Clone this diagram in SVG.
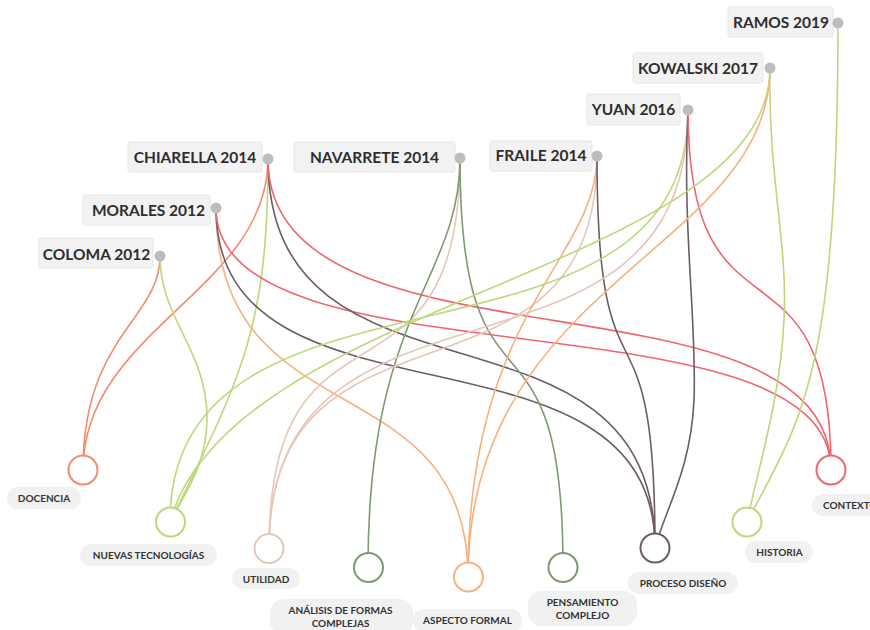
<svg xmlns="http://www.w3.org/2000/svg" width="870" height="630" viewBox="0 0 870 630">
<style>
.e{fill:none;stroke-width:1.6}
.sal{stroke:#F28C6E}.grn{stroke:#BDD77C}.bei{stroke:#E5C7B8}.oli{stroke:#7D9971}.org{stroke:#F7B07F}.mau{stroke:#6D5B65}.red{stroke:#EE6670}
.box{fill:#F2F2F2;stroke:#E6E6E6;stroke-width:1}
.dot{fill:#BDBDBD}
.st{font-family:Lato,"Liberation Sans",sans-serif;font-weight:700;font-size:15.5px;fill:#2E2E2E;text-anchor:middle}
.pill{fill:#F1F1F1}
.lt{font-family:Lato,"Liberation Sans",sans-serif;font-weight:700;font-size:10px;fill:#333;text-anchor:middle}
.c{fill:#fff;stroke-width:2}
</style>
<rect width="870" height="630" fill="#fff"/>
<g id="connectors">
<path class="e sal" d="M160,256 C160,320 83,335 83,470"/>
<path class="e sal" d="M268,159 C268,290 83,330 83,470"/>
<path class="e grn" d="M160,256 C160,320 208,350 207,420 C206,470 180,500 170,522"/>
<path class="e grn" d="M268,159 C268,330 240,380 170,522"/>
<path class="e org" d="M216,208 C216,440 468,360 468,577"/>
<path class="e mau" d="M216,208 C216,446 655,304 655,548"/>
<path class="e red" d="M216,208 C216,391 831,287 831,470"/>
<path class="e mau" d="M268,159 C268,431 655,276 655,548"/>
<path class="e red" d="M268,159 C268,385 831,258 831,470"/>
<path class="e bei" d="M460,158 C460,431 269,275 269,548"/>
<path class="e oli" d="M460,158 C460,280 368,310 368,567"/>
<path class="e oli" d="M460,158 C460,444 563,281 563,567"/>
<path class="e bei" d="M597,156 C597,430 269,274 269,548"/>
<path class="e org" d="M597,156 C597,260 468,310 468,577"/>
<path class="e mau" d="M597,156 C597,430 655,274 655,548"/>
<path class="e grn" d="M688,110 C688,398 170,234 170,522"/>
<path class="e bei" d="M688,110 C688,417 269,241 269,548"/>
<path class="e mau" d="M688,110 C682,230 697,320 694,400 C691,470 665,510 655,548"/>
<path class="e red" d="M688,110 C688,362 831,218 831,470"/>
<path class="e grn" d="M770,68 C770,270 230,300 170,522"/>
<path class="e org" d="M770,68 C770,250 468,280 468,577"/>
<path class="e grn" d="M770,68 C768,180 788,240 784,320 C780,400 760,460 747,522"/>
<path class="e grn" d="M838,23 C838,380 800,420 747,522"/>
</g>
<g id="ramos"><rect class="box" x="728" y="7" width="105" height="30" rx="2"/><text class="st" x="781" y="28">RAMOS 2019</text><circle class="dot" cx="838" cy="23" r="5.5"/></g>
<g id="kowalski"><rect class="box" x="633" y="53" width="130" height="30" rx="2"/><text class="st" x="698" y="73.5">KOWALSKI 2017</text><circle class="dot" cx="770" cy="68" r="5.5"/></g>
<g id="yuan"><rect class="box" x="587" y="94" width="93" height="31" rx="2"/><text class="st" x="633.5" y="115">YUAN 2016</text><circle class="dot" cx="688" cy="110" r="5.5"/></g>
<g id="fraile"><rect class="box" x="490" y="141" width="102" height="30" rx="2"/><text class="st" x="541" y="161">FRAILE 2014</text><circle class="dot" cx="597" cy="156" r="5.5"/></g>
<g id="navarrete"><rect class="box" x="294" y="142" width="161" height="30" rx="2"/><text class="st" x="374.5" y="163">NAVARRETE 2014</text><circle class="dot" cx="460" cy="158" r="5.5"/></g>
<g id="chiarella"><rect class="box" x="128" y="142" width="134" height="30" rx="2"/><text class="st" x="195" y="163">CHIARELLA 2014</text><circle class="dot" cx="268" cy="159" r="5.5"/></g>
<g id="morales"><rect class="box" x="83" y="195" width="127" height="30" rx="2"/><text class="st" x="148.5" y="216">MORALES 2012</text><circle class="dot" cx="216" cy="208" r="5.5"/></g>
<g id="coloma"><rect class="box" x="39" y="238" width="114" height="30" rx="2"/><text class="st" x="96.5" y="260">COLOMA 2012</text><circle class="dot" cx="160" cy="256" r="5.5"/></g>
<g id="docencia"><circle class="c sal" cx="83" cy="470" r="14.5"/><rect class="pill" x="7" y="487" width="74" height="22" rx="11"/><text class="lt" x="44" y="502">DOCENCIA</text></g>
<g id="nuevas-tecnologias"><circle class="c grn" cx="170.5" cy="522" r="14.5"/><rect class="pill" x="80" y="544" width="137" height="22" rx="11"/><text class="lt" x="148.5" y="558.5">NUEVAS TECNOLOGÍAS</text></g>
<g id="utilidad"><circle class="c bei" cx="269" cy="548.5" r="14.5"/><rect class="pill" x="232" y="568" width="68" height="21" rx="10.5"/><text class="lt" x="266" y="582.5">UTILIDAD</text></g>
<g id="analisis"><circle class="c oli" cx="368.5" cy="567.5" r="14.5"/><rect class="pill" x="270" y="599" width="143" height="36" rx="14"/><text class="lt" x="340.5" y="613.5">ANÁLISIS DE FORMAS</text><text class="lt" x="340.5" y="627">COMPLEJAS</text></g>
<g id="aspecto-formal"><circle class="c org" cx="468.5" cy="577" r="14.5"/><rect class="pill" x="413" y="609" width="109" height="23" rx="11"/><text class="lt" x="467.5" y="624">ASPECTO FORMAL</text></g>
<g id="pensamiento-complejo"><circle class="c oli" cx="563" cy="567.5" r="14.5"/><rect class="pill" x="528" y="591" width="109" height="35" rx="14"/><text class="lt" x="582.5" y="605.5">PENSAMIENTO</text><text class="lt" x="582.5" y="618.5">COMPLEJO</text></g>
<g id="proceso-diseno"><circle class="c mau" cx="655" cy="548" r="14.5"/><rect class="pill" x="628" y="572" width="110" height="22" rx="11"/><text class="lt" x="683" y="586.5">PROCESO DISEÑO</text></g>
<g id="historia"><circle class="c grn" cx="747" cy="522" r="14.5"/><rect class="pill" x="745" y="541" width="68" height="22" rx="11"/><text class="lt" x="779.5" y="555.5">HISTORIA</text></g>
<g id="contexto"><circle class="c red" cx="831" cy="470" r="14.5"/><rect class="pill" x="812" y="494" width="90" height="22" rx="11"/><text class="lt" x="823" y="508.5" style="text-anchor:start">CONTEXTO</text></g>
</svg>
